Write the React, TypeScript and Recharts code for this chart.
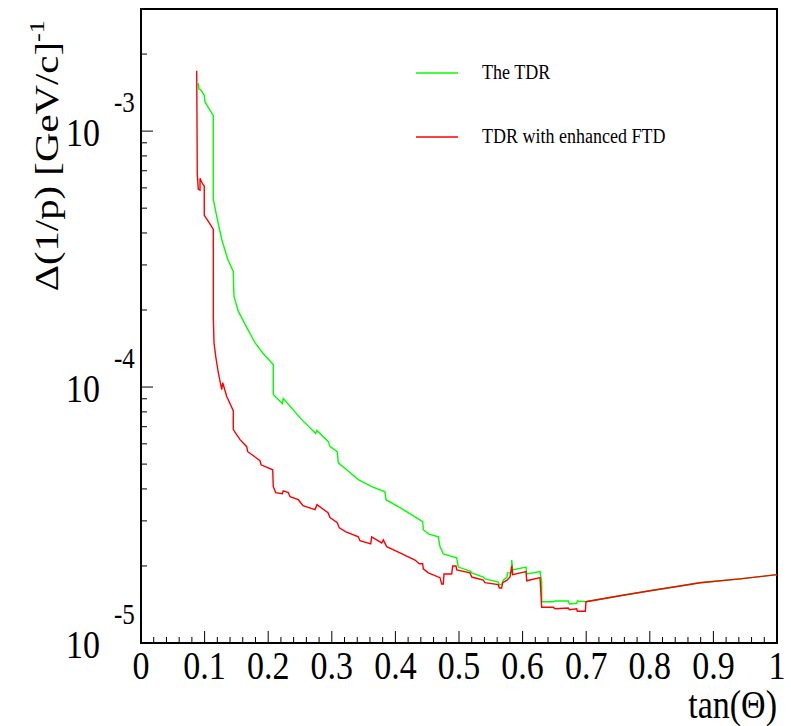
import { LineChart, Line, XAxis, YAxis, ReferenceArea, Legend, Label } from 'recharts'

const W = 791
const H = 726
const SERIF = '"Liberation Serif", "Times New Roman", serif'
// the original picture is a bit taller than wide, text glyphs come out stretched
const STRETCH = 1.2

const seriesNames = ['The TDR', 'TDR with enhanced FTD']

// [tan(theta), delta(1/p) in (GeV/c)^-1]
const tdrPoints: [number, number][] = [
  [0.09, 1.54e-3], [0.091, 1.46e-3], [0.094, 1.45e-3], [0.0995, 1.38e-3], [0.1006, 1.3e-3],
  [0.1137, 1.15e-3], [0.1137, 5.42e-4], [0.119, 4.65e-4], [0.1269, 3.78e-4], [0.1363, 3.16e-4],
  [0.1451, 2.83e-4], [0.1462, 2.26e-4], [0.153, 1.98e-4], [0.1662, 1.71e-4], [0.1792, 1.49e-4],
  [0.1923, 1.35e-4], [0.208, 1.225e-4], [0.208, 9.35e-5], [0.2222, 8.62e-5], [0.2237, 9.02e-5],
  [0.2527, 7.46e-5], [0.2747, 6.58e-5], [0.2767, 6.76e-5], [0.2945, 6.12e-5], [0.2972, 5.85e-5],
  [0.3086, 5.59e-5], [0.3102, 5.06e-5], [0.3234, 4.75e-5], [0.3417, 4.35e-5], [0.3627, 4.08e-5],
  [0.3836, 3.9e-5], [0.3852, 3.63e-5], [0.4072, 3.38e-5], [0.4308, 3.11e-5], [0.4429, 2.98e-5],
  [0.4439, 2.77e-5], [0.4517, 2.67e-5], [0.4675, 2.6e-5], [0.4701, 2.38e-5], [0.4753, 2.23e-5],
  [0.4964, 2.15e-5], [0.4989, 1.98e-5], [0.5173, 1.91e-5], [0.52, 1.88e-5], [0.5382, 1.81e-5],
  [0.5409, 1.78e-5], [0.5618, 1.73e-5], [0.5634, 1.69e-5], [0.5671, 1.69e-5], [0.5696, 1.76e-5],
  [0.5755, 1.81e-5], [0.5762, 1.88e-5], [0.5829, 1.88e-5], [0.5829, 2.11e-5], [0.5845, 1.93e-5],
  [0.6053, 1.98e-5], [0.6065, 1.86e-5], [0.6274, 1.9e-5], [0.63, 1.73e-5], [0.63, 1.45e-5],
  [0.6483, 1.45e-5], [0.6509, 1.46e-5], [0.6719, 1.46e-5], [0.6735, 1.42e-5], [0.6851, 1.43e-5],
  [0.686, 1.46e-5], [0.6997, 1.45e-5],
]

const ftdPoints: [number, number][] = [
  [0.0876, 1.72e-3], [0.0885, 6.79e-4], [0.0901, 5.93e-4], [0.0928, 5.88e-4], [0.0928, 6.55e-4],
  [0.0954, 6.31e-4], [0.0995, 6.09e-4], [0.0995, 4.69e-4], [0.1069, 4.4e-4], [0.1137, 4.13e-4],
  [0.1137, 1.87e-4], [0.1148, 1.49e-4], [0.1175, 1.315e-4], [0.1215, 1.14e-4], [0.1269, 9.78e-5],
  [0.1285, 1.04e-4], [0.1348, 9.18e-5], [0.1451, 8.09e-5], [0.1451, 6.82e-5], [0.1557, 6.23e-5],
  [0.1662, 5.85e-5], [0.1678, 5.59e-5], [0.1871, 5.16e-5], [0.1887, 4.97e-5], [0.2071, 4.75e-5],
  [0.208, 4.08e-5], [0.2118, 3.87e-5], [0.2222, 3.83e-5], [0.2237, 3.93e-5], [0.2316, 3.87e-5],
  [0.2343, 3.73e-5], [0.2473, 3.63e-5], [0.2547, 3.44e-5], [0.2736, 3.32e-5], [0.2767, 3.47e-5],
  [0.294, 3.23e-5], [0.2972, 3.09e-5], [0.3086, 2.95e-5], [0.3118, 2.82e-5], [0.3223, 2.72e-5],
  [0.3417, 2.6e-5], [0.3443, 2.51e-5], [0.3612, 2.44e-5], [0.3627, 2.6e-5], [0.3785, 2.46e-5],
  [0.381, 2.53e-5], [0.3863, 2.38e-5], [0.4072, 2.25e-5], [0.4308, 2.11e-5], [0.4376, 2.04e-5],
  [0.4429, 2.04e-5], [0.4439, 1.95e-5], [0.4517, 1.88e-5], [0.4701, 1.8e-5], [0.4728, 1.7e-5],
  [0.4753, 1.7e-5], [0.4764, 1.86e-5], [0.4885, 1.86e-5], [0.4901, 2.0e-5], [0.4953, 2.0e-5],
  [0.4964, 1.93e-5], [0.5173, 1.88e-5], [0.52, 1.81e-5], [0.5382, 1.76e-5], [0.5409, 1.72e-5],
  [0.5618, 1.69e-5], [0.5634, 1.64e-5], [0.5671, 1.64e-5], [0.5687, 1.72e-5], [0.5755, 1.76e-5],
  [0.5802, 1.81e-5], [0.5829, 2.0e-5], [0.5845, 1.85e-5], [0.6053, 1.9e-5], [0.6065, 1.75e-5],
  [0.6274, 1.8e-5], [0.63, 1.38e-5], [0.6483, 1.38e-5], [0.6509, 1.36e-5], [0.6719, 1.37e-5],
  [0.6735, 1.35e-5], [0.6851, 1.36e-5], [0.686, 1.33e-5], [0.6986, 1.33e-5], [0.6997, 1.45e-5],
]

// both configurations agree beyond tan ~ 0.7
const tailPoints: [number, number][] = [
  [0.7531, 1.53e-5], [0.8003, 1.6e-5], [0.8475, 1.67e-5], [0.8789, 1.72e-5], [0.9418, 1.78e-5], [1.0, 1.85e-5],
]

const xTicks = [
  0, 0.02, 0.04, 0.06, 0.08, 0.1, 0.12, 0.14, 0.16, 0.18, 0.2, 0.22, 0.24, 0.26, 0.28, 0.3, 0.32, 0.34,
  0.36, 0.38, 0.4, 0.42, 0.44, 0.46, 0.48, 0.5, 0.52, 0.54, 0.56, 0.58, 0.6, 0.62, 0.64, 0.66, 0.68, 0.7,
  0.72, 0.74, 0.76, 0.78, 0.8, 0.82, 0.84, 0.86, 0.88, 0.9, 0.92, 0.94, 0.96, 0.98, 1,
]

const yTicks = [
  1e-5, 2e-5, 3e-5, 4e-5, 5e-5, 6e-5, 7e-5, 8e-5, 9e-5,
  1e-4, 2e-4, 3e-4, 4e-4, 5e-4, 6e-4, 7e-4, 8e-4, 9e-4,
  1e-3, 2e-3,
]

const toRows = (pts: [number, number][]) => pts.map(([t, v]) => ({ t, v }))
const tdrData = toRows([...tdrPoints, ...tailPoints])
const ftdData = toRows([...ftdPoints, ...tailPoints])

// text whose glyphs are stretched vertically around the baseline
function Txt({ x, y, size, anchor = 'start', children }: any) {
  return (
    <text
      transform={`translate(${x},${y}) scale(1,${STRETCH})`}
      textAnchor={anchor}
      fontFamily={SERIF}
      fontSize={size}
      fill="#000"
    >
      {children}
    </text>
  )
}

function XTick({ x, y, payload }: any) {
  const v = payload.value
  const major = Math.round(v * 100) % 10 === 0
  return (
    <g>
      <line x1={x} y1={y} x2={x} y2={y - (major ? 12 : 6)} stroke="#000" strokeWidth={1} />
      {major && <Txt x={x} y={y + 36} size={34} anchor="middle">{String(v)}</Txt>}
    </g>
  )
}

function YTick({ x, y, payload }: any) {
  const lg = Math.log10(payload.value)
  const major = Math.abs(lg - Math.round(lg)) < 1e-6
  return (
    <g>
      <line x1={x} y1={y} x2={x + (major ? 12 : 6)} y2={y} stroke="#000" strokeWidth={1} />
      {major && (
        <>
          <Txt x={x - 41} y={y + 15} size={34} anchor="end">10</Txt>
          <Txt x={x - 27} y={y - 19} size={25}>{String(Math.round(lg))}</Txt>
        </>
      )}
    </g>
  )
}

function XTitle({ viewBox }: any) {
  return <Txt x={viewBox.x + viewBox.width} y={viewBox.y + 75} size={34} anchor="end">tan(Θ)</Txt>
}

function YTitle() {
  return (
    <text
      transform={`translate(58,20) rotate(-90) scale(${STRETCH},1)`}
      textAnchor="end"
      fontFamily={SERIF}
      fontSize={34}
      fill="#000"
    >
      Δ(1/p) [GeV/c]<tspan dy={-14} fontSize={22}>-1</tspan>
    </text>
  )
}

function renderLegend({ payload }: any) {
  const items = [...(payload || [])].sort(
    (a: any, b: any) => seriesNames.indexOf(a.value) - seriesNames.indexOf(b.value),
  )
  return (
    <svg width={300} height={110}>
      {items.map((p: any, i: number) => (
        <g key={p.value}>
          <line x1={16} x2={58} y1={23 + i * 64} y2={23 + i * 64} stroke={p.color} strokeWidth={1.5} />
          <Txt x={82} y={29 + i * 64} size={18}>{p.value}</Txt>
        </g>
      ))}
    </svg>
  )
}

export default function App() {
  return (
    <div style={{ position: 'absolute', left: 0, top: 0, width: W, height: H, background: '#fff' }}>
      <LineChart width={W} height={H} margin={{ top: 9, right: 14, left: 0, bottom: 0 }}>
        <XAxis
          dataKey="t"
          type="number"
          domain={[0, 1]}
          allowDataOverflow
          ticks={xTicks}
          interval={0}
          height={83}
          tickSize={0}
          tickMargin={0}
          tickLine={false}
          axisLine={false}
          tick={<XTick />}
        >
          <Label content={<XTitle />} />
        </XAxis>
        <YAxis
          type="number"
          scale="log"
          domain={[1e-5, 3e-3]}
          allowDataOverflow
          ticks={yTicks}
          interval={0}
          width={141}
          tickSize={0}
          tickMargin={0}
          tickLine={false}
          axisLine={false}
          tick={<YTick />}
        >
          <Label content={<YTitle />} />
        </YAxis>
        <ReferenceArea x1={0} x2={1} y1={1e-5} y2={3e-3} fill="none" stroke="#000" strokeWidth={2} />
        <Legend
          layout="horizontal"
          verticalAlign="middle"
          align="center"
          content={renderLegend}
          wrapperStyle={{ left: 400, top: 50, width: 300, height: 110 }}
        />
        <Line data={tdrData} dataKey="v" name={seriesNames[0]} type="linear" stroke="#00ff00" strokeWidth={1.4} dot={false} isAnimationActive={false} />
        <Line data={ftdData} dataKey="v" name={seriesNames[1]} type="linear" stroke="#ff0000" strokeWidth={1.4} dot={false} isAnimationActive={false} />
      </LineChart>
    </div>
  )
}
